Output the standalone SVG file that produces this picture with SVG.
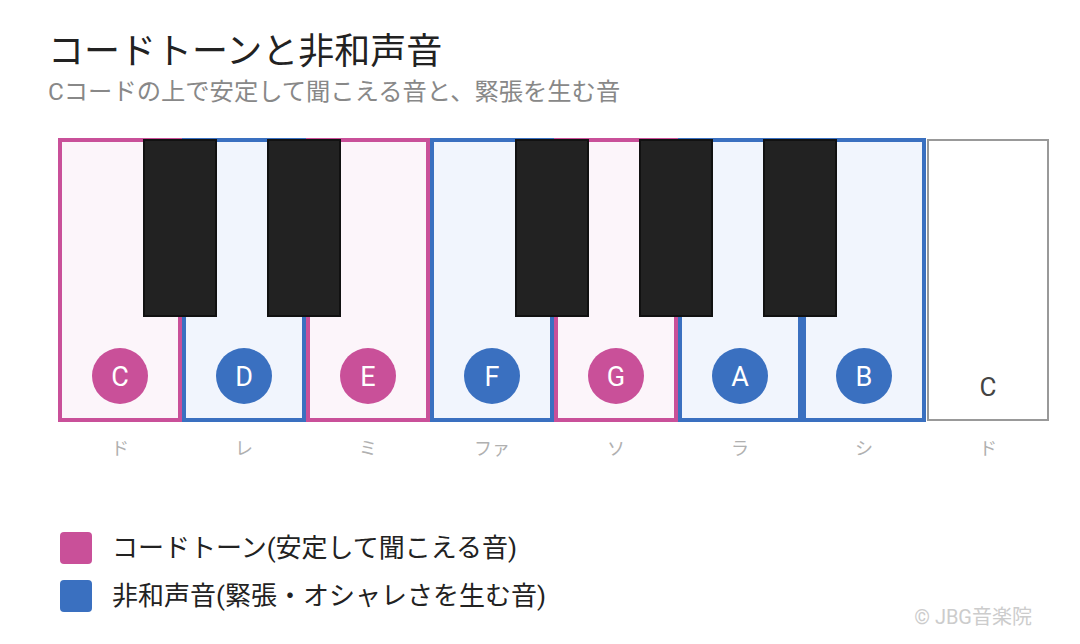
<svg xmlns="http://www.w3.org/2000/svg" width="1080" height="644" viewBox="0 0 1080 644">
<style>
text{font-family:Roboto,"Noto Sans CJK JP",sans-serif}
.ct{fill:#FCF5FA;stroke:#C95099;stroke-width:4}
.nh{fill:#F1F5FD;stroke:#3A70C0;stroke-width:4}
.bk{fill:#222;stroke:#111;stroke-width:2}
.cp{fill:#C95099}
.bp{fill:#3A70C0}
.lt{fill:#fff;font-size:27px;text-anchor:middle}
.sol{fill:#b0b0b0;font-size:18px;text-anchor:middle}
.leg{fill:#222;font-size:26px}
</style>
<rect width="1080" height="644" fill="#fff"/>
<g id="title">
<text x="48" y="64" font-size="36" fill="#222">コードトーンと非和声音</text>
<text x="48" y="100" font-size="24.3" fill="#888">Cコードの上で安定して聞こえる音と、緊張を生む音</text>
</g>
<g id="white-keys">
<g id="key-C"><rect class="ct" x="60" y="140" width="120" height="280"/><circle class="cp" cx="120" cy="376" r="28"/><text class="lt" x="120" y="386">C</text></g>
<g id="key-D"><rect class="nh" x="184" y="140" width="120" height="280"/><circle class="bp" cx="244" cy="376" r="28"/><text class="lt" x="244" y="386">D</text></g>
<g id="key-E"><rect class="ct" x="308" y="140" width="120" height="280"/><circle class="cp" cx="368" cy="376" r="28"/><text class="lt" x="368" y="386">E</text></g>
<g id="key-F"><rect class="nh" x="432" y="140" width="120" height="280"/><circle class="bp" cx="492" cy="376" r="28"/><text class="lt" x="492" y="386">F</text></g>
<g id="key-G"><rect class="ct" x="556" y="140" width="120" height="280"/><circle class="cp" cx="616" cy="376" r="28"/><text class="lt" x="616" y="386">G</text></g>
<g id="key-A"><rect class="nh" x="680" y="140" width="120" height="280"/><circle class="bp" cx="740" cy="376" r="28"/><text class="lt" x="740" y="386">A</text></g>
<g id="key-B"><rect class="nh" x="804" y="140" width="120" height="280"/><circle class="bp" cx="864" cy="376" r="28"/><text class="lt" x="864" y="386">B</text></g>
<g id="key-C2"><rect x="928" y="140" width="120" height="280" fill="#fff" stroke="#999" stroke-width="2"/><text x="988" y="396" font-size="26" fill="#444" text-anchor="middle">C</text></g>
</g>
<g id="black-keys">
<rect class="bk" x="144" y="140" width="72" height="176"/>
<rect class="bk" x="268" y="140" width="72" height="176"/>
<rect class="bk" x="516" y="140" width="72" height="176"/>
<rect class="bk" x="640" y="140" width="72" height="176"/>
<rect class="bk" x="764" y="140" width="72" height="176"/>
</g>
<g id="solfege">
<text class="sol" x="120" y="455">ド</text>
<text class="sol" x="244" y="455">レ</text>
<text class="sol" x="368" y="455">ミ</text>
<text class="sol" x="492" y="455">ファ</text>
<text class="sol" x="616" y="455">ソ</text>
<text class="sol" x="740" y="455">ラ</text>
<text class="sol" x="864" y="455">シ</text>
<text class="sol" x="988" y="455">ド</text>
</g>
<g id="legend">
<rect class="cp" x="60" y="532" width="32" height="32" rx="4"/>
<text class="leg" x="112" y="557">コードトーン(安定して聞こえる音)</text>
<rect class="bp" x="60" y="580" width="32" height="32" rx="4"/>
<text class="leg" x="112" y="605">非和声音(緊張・オシャレさを生む音)</text>
</g>
<g id="copyright">
<text x="1032" y="624" font-size="20" fill="#ccc" text-anchor="end">© JBG音楽院</text>
</g>
</svg>
